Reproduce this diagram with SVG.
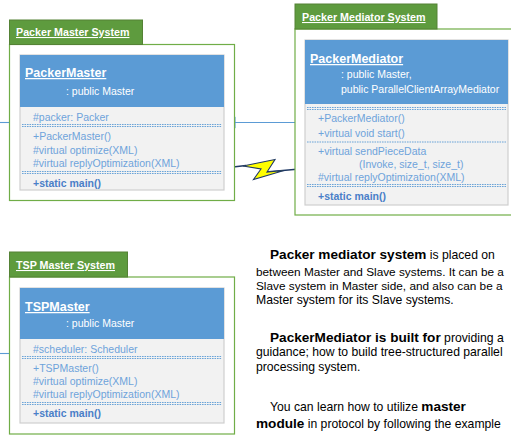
<svg xmlns="http://www.w3.org/2000/svg" width="511" height="435" viewBox="0 0 511 435">
<defs>
<style>
text{font-family:"Liberation Sans",Arial,sans-serif}
.cont{fill:#ffffff;stroke:#70ad47;stroke-width:1.2}
.tab{fill:#5e9b3e;stroke:#548235;stroke-width:1}
.tabt{fill:#ffffff;font-size:10.7px;font-weight:bold;text-decoration:underline}
.box{fill:#f2f2f2;stroke:#cfcfcf;stroke-width:1.2}
.hdr{fill:#5b9bd5}
.cname{fill:#ffffff;font-size:12.5px;font-weight:bold;text-decoration:underline}
.inh{fill:#ffffff;font-size:10.5px}
.mem{fill:#6ea3db;font-size:10.5px}
.main{fill:#4a7fc8;font-size:10.5px;font-weight:bold}
.dl{stroke:#5b9bd5;stroke-width:0.9;stroke-dasharray:1.6 0.9;fill:none}
.conn{stroke:#5b9bd5;stroke-width:1.1;fill:none}
.para{fill:#000000;font-size:12.2px}
.nar{font-size:11.8px}
.b{font-weight:bold;font-size:13.6px}
</style>
</defs>

<g id="connectors">
<line class="conn" x1="0" y1="122.5" x2="20" y2="122.5"/>
<line class="conn" x1="0" y1="353.5" x2="20" y2="353.5"/>
<line class="conn" x1="235" y1="122.5" x2="305" y2="122.5"/>
<polygon points="224,122.5 235,117.5 235,127.5" fill="#ffffff" stroke="#5b9bd5" stroke-width="1.1"/>
<polyline points="220,168.5 246,165.5" fill="none" stroke="#1f3864" stroke-width="1.3"/>
<polyline points="266,172 305,168.5" fill="none" stroke="#1f3864" stroke-width="1.3"/>
<polygon points="243,166 275,159.5 267,172 284,170.5 253.5,179.5 261,169" fill="#ffff00" stroke="#1f3864" stroke-width="1.1" stroke-linejoin="miter"/>
</g>

<g id="packer-master-system">
<rect class="cont" x="9.5" y="44.5" width="225" height="156"/>
<rect class="tab" x="9.5" y="20" width="133" height="24.5"/>
<text class="tabt" x="16" y="36">Packer Master System</text>
</g>

<g id="packer-master">
<rect class="box" x="20" y="55" width="204" height="135"/>
<rect class="hdr" x="20" y="55" width="204" height="52"/>
<text class="cname" x="25" y="77">PackerMaster</text>
<text class="inh" x="66" y="95">: public Master</text>
<text class="mem" x="33" y="121">#packer: Packer</text>
<line class="dl" x1="22" y1="124.5" x2="222" y2="124.5"/>
<line class="dl" x1="22" y1="126.5" x2="222" y2="126.5"/>
<text class="mem" x="33" y="140">+PackerMaster()</text>
<text class="mem" x="33" y="153.5">#virtual optimize(XML)</text>
<text class="mem" x="33" y="167">#virtual replyOptimization(XML)</text>
<line class="dl" x1="22" y1="171.5" x2="222" y2="171.5"/>
<line class="dl" x1="22" y1="173.5" x2="222" y2="173.5"/>
<text class="main" x="33" y="187">+static main()</text>
</g>

<g id="packer-mediator-system">
<rect class="cont" x="295" y="29" width="230" height="186"/>
<rect class="tab" x="295" y="4" width="142" height="25"/>
<text class="tabt" x="302" y="21">Packer Mediator System</text>
</g>

<g id="packer-mediator">
<rect class="box" x="305" y="40" width="203" height="165"/>
<rect class="hdr" x="305" y="40" width="203" height="64"/>
<text class="cname" x="310" y="63">PackerMediator</text>
<text class="inh" x="341" y="78">: public Master,</text>
<text class="inh" x="341" y="93">public ParallelClientArrayMediator</text>
<line class="dl" x1="307" y1="107.5" x2="506" y2="107.5"/>
<line class="dl" x1="307" y1="109.5" x2="506" y2="109.5"/>
<text class="mem" x="318" y="122">+PackerMediator()</text>
<text class="mem" x="318" y="137">+virtual void start()</text>
<line class="dl" x1="307" y1="142" x2="506" y2="142"/>
<text class="mem" x="318" y="155">+virtual sendPieceData</text>
<text class="mem" x="359" y="168">(Invoke, size_t, size_t)</text>
<text class="mem" x="318" y="181">#virtual replyOptimization(XML)</text>
<line class="dl" x1="307" y1="184.5" x2="506" y2="184.5"/>
<line class="dl" x1="307" y1="186.5" x2="506" y2="186.5"/>
<text class="main" x="318" y="200">+static main()</text>
</g>

<g id="tsp-master-system">
<rect class="cont" x="9.5" y="277" width="225" height="157"/>
<rect class="tab" x="9.5" y="252" width="118" height="25"/>
<text class="tabt" x="16" y="269">TSP Master System</text>
</g>

<g id="tsp-master">
<rect class="box" x="20" y="288" width="204" height="135"/>
<rect class="hdr" x="20" y="288" width="204" height="51"/>
<text class="cname" x="25" y="311">TSPMaster</text>
<text class="inh" x="66" y="327">: public Master</text>
<text class="mem" x="33" y="353">#scheduler: Scheduler</text>
<line class="dl" x1="22" y1="356.5" x2="222" y2="356.5"/>
<line class="dl" x1="22" y1="358.5" x2="222" y2="358.5"/>
<text class="mem" x="33" y="372">+TSPMaster()</text>
<text class="mem" x="33" y="385">#virtual optimize(XML)</text>
<text class="mem" x="33" y="398">#virtual replyOptimization(XML)</text>
<line class="dl" x1="22" y1="402.5" x2="222" y2="402.5"/>
<line class="dl" x1="22" y1="404.5" x2="222" y2="404.5"/>
<text class="main" x="33" y="417">+static main()</text>
</g>

<g id="description">
<text class="para" x="270" y="259"><tspan class="b">Packer mediator system</tspan> is placed on</text>
<text class="para nar" x="256" y="276">between Master and Slave systems. It can be a</text>
<text class="para nar" x="256" y="290">Slave system in Master side, and also can be a</text>
<text class="para" x="256" y="304">Master system for its Slave systems.</text>
<text class="para" x="270" y="342"><tspan class="b">PackerMediator is built for</tspan> providing a</text>
<text class="para" x="256" y="356">guidance; how to build tree-structured parallel</text>
<text class="para" x="256" y="371">processing system.</text>
<text class="para" x="270" y="411">You can learn how to utilize <tspan class="b">master</tspan></text>
<text class="para" x="256" y="428"><tspan class="b">module</tspan> in protocol by following the example</text>
</g>
</svg>
